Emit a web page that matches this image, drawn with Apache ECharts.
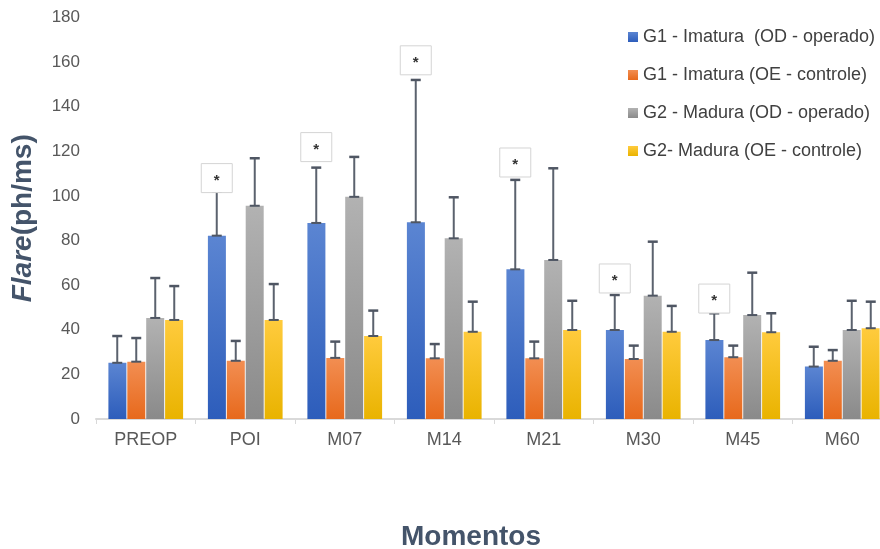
<!DOCTYPE html>
<html>
<head>
<meta charset="utf-8">
<script src="https://cdn.jsdelivr.net/npm/echarts@6/dist/echarts.min.js"></script>
<style>
  html, body { margin: 0; padding: 0; background: #fff; }
  #chart { width: 880px; height: 549px; }
</style>
</head>
<body>
<div id="chart"></div>
<script>
const categories = ['PREOP', 'POI', 'M07', 'M14', 'M21', 'M30', 'M45', 'M60'];
const seriesNames = [
  'G1 - Imatura  (OD - operado)',
  'G1 - Imatura (OE - controle)',
  'G2 - Madura (OD - operado)',
  'G2- Madura (OE - controle)'
];
// means
const g1Operado = [25.2, 82.2, 87.9, 88.2, 67.1, 39.9, 35.4, 23.5];
const g1Controle = [25.7, 26.1, 27.4, 27.2, 27.2, 26.9, 27.7, 26.1];
const g2Operado = [45.3, 95.6, 99.6, 81.0, 71.3, 55.3, 46.6, 39.9];
const g2Controle = [44.4, 44.4, 37.2, 39.1, 39.9, 39.1, 38.9, 40.7];
// standard deviations (upper whisker - mean)
const g1OperadoSd = [12.0, 19.7, 24.8, 63.8, 40.1, 15.7, 12.0, 8.9];
const g1ControleSd = [10.6, 8.9, 7.3, 6.4, 7.5, 6.0, 5.2, 4.8];
const g2OperadoSd = [17.9, 21.3, 17.9, 18.4, 41.1, 24.2, 19.0, 13.1];
const g2ControleSd = [15.2, 16.1, 11.4, 13.5, 13.1, 11.6, 8.5, 11.9];
// significance marks (*) over G1 operado, value at box bottom
const starCats = ['POI', 'M07', 'M14', 'M21', 'M30', 'M45'];
const starAt = [101.5, 115.4, 154.3, 108.5, 56.5, 47.5];
const yTicks = [0, 180, 20];

const means = [g1Operado, g1Controle, g2Operado, g2Controle];
const sds = [g1OperadoSd, g1ControleSd, g2OperadoSd, g2ControleSd];
const gradients = [
  ['#5b85d2', '#2d5dbb'],
  ['#f28e52', '#e7691c'],
  ['#b2b2b2', '#8a8a8a'],
  ['#ffcb3d', '#e9b300']
];

const BAR_W = 18;
const BAR_STEP = 19;
const FONT = '"Liberation Sans", Arial, sans-serif';
const TITLE_COLOR = '#44546a';

const chart = echarts.init(document.getElementById('chart'));

const barSeries = means.map((vals, i) => ({
  name: seriesNames[i],
  type: 'bar',
  data: vals,
  barWidth: BAR_W,
  barGap: '5%',
  itemStyle: {
    color: new echarts.graphic.LinearGradient(0, 0, 0, 1, [
      { offset: 0, color: gradients[i][0] },
      { offset: 1, color: gradients[i][1] }
    ])
  },
  emphasis: { disabled: true },
  z: 2
}));

// error bars: [catIndex, mean, upper, seriesIndex]
const errData = [];
means.forEach((vals, s) => {
  vals.forEach((m, c) => errData.push([c, m, m + sds[s][c], s]));
});

const errSeries = {
  type: 'custom',
  data: errData,
  z: 5,
  silent: true,
  renderItem: (params, api) => {
    const c = api.value(0);
    const s = api.value(3);
    const base = api.coord([c, api.value(1)]);
    const top = api.coord([c, api.value(2)]);
    const x = base[0] + (s - 1.5) * BAR_STEP;
    const st = { stroke: '#5b626e', lineWidth: 2 };
    return {
      type: 'group',
      children: [
        { type: 'line', shape: { x1: x, y1: base[1], x2: x, y2: top[1] }, style: st },
        { type: 'line', shape: { x1: x - 5, y1: top[1], x2: x + 5, y2: top[1] }, style: { stroke: '#4f5663', lineWidth: 2.5 } },
        { type: 'line', shape: { x1: x - 5, y1: base[1], x2: x + 5, y2: base[1] }, style: { stroke: '#4f5663', lineWidth: 2 } }
      ]
    };
  }
};

const starSeries = {
  type: 'custom',
  data: starCats.map((c, i) => [categories.indexOf(c), starAt[i]]),
  z: 6,
  silent: true,
  renderItem: (params, api) => {
    const p = api.coord([api.value(0), api.value(1)]);
    const x = p[0] - 1.5 * BAR_STEP;
    return {
      type: 'group',
      children: [
        {
          type: 'rect',
          shape: { x: x - 15.5, y: p[1] - 29, width: 31, height: 29 },
          style: { fill: '#fff', stroke: '#d4d4d4', lineWidth: 1 }
        },
        {
          type: 'text',
          style: {
            x: x, y: p[1] - 12,
            text: '*',
            fill: '#333',
            font: 'bold 15px ' + FONT,
            align: 'center',
            verticalAlign: 'middle'
          }
        }
      ]
    };
  }
};

const option = {
  backgroundColor: '#fff',
  animation: false,
  title: {
    text: 'Momentos',
    left: 396,
    top: 518,
    textStyle: { color: TITLE_COLOR, fontSize: 28, fontWeight: 'bold', fontFamily: FONT }
  },
  legend: {
    data: seriesNames,
    orient: 'vertical',
    left: 623,
    top: 23,
    itemWidth: 10,
    itemHeight: 10,
    itemGap: 20,
    icon: 'rect',
    textStyle: { color: '#404040', fontSize: 18, fontFamily: FONT }
  },
  grid: {
    left: 96, right: -12, top: 17.5, bottom: 130,
    containLabel: false,
    outerBoundsMode: 'none'
  },
  xAxis: {
    type: 'category',
    data: categories,
    axisLine: { lineStyle: { color: '#d9d9d9', width: 2 } },
    axisTick: { show: true, length: 5, lineStyle: { color: '#d9d9d9' } },
    axisLabel: { color: '#595959', fontSize: 18, fontFamily: FONT, margin: 12 }
  },
  yAxis: {
    type: 'value',
    min: yTicks[0],
    max: yTicks[1],
    interval: yTicks[2],
    name: '{i|Flare}{n|(ph/ms)}',
    nameLocation: 'middle',
    nameGap: 59,
    nameRotate: 90,
    nameTextStyle: {
      rich: {
        i: { fontStyle: 'italic', fontWeight: 'bold', fontSize: 28, color: TITLE_COLOR, fontFamily: FONT },
        n: { fontWeight: 'bold', fontSize: 28, color: TITLE_COLOR, fontFamily: FONT }
      }
    },
    axisLine: { show: false },
    axisTick: { show: false },
    splitLine: { show: false },
    axisLabel: { color: '#595959', fontSize: 17, fontFamily: FONT, margin: 16 }
  },
  series: [...barSeries, errSeries, starSeries]
};

chart.setOption(option);
</script>
</body>
</html>
